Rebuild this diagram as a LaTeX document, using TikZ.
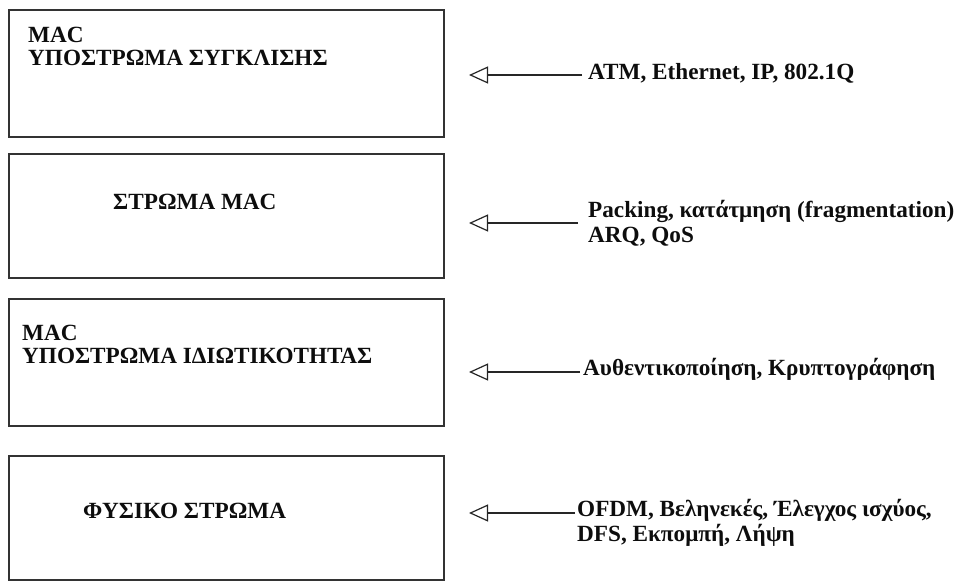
\documentclass[tikz,border=0pt]{standalone}
\usepackage{fontspec}
\setmainfont{Liberation Serif}
\usetikzlibrary{arrows.meta}
\begin{document}
\begin{tikzpicture}[x=1pt,y=-1pt,
  layerbox/.style={draw=black!80, line width=1.9pt, inner sep=0pt},
  boxtext/.style={anchor=base west, inner sep=0pt, align=left,
    font=\bfseries\fontsize{23.2}{23}\selectfont, text=black!95},
  sidetext/.style={anchor=base west, inner sep=0pt, align=left,
    font=\bfseries\fontsize{23.2}{25}\selectfont, text=black!95},
  feed/.style={draw=black!85, line width=1.2pt,
    -{Triangle[open, length=19pt, width=17pt, line width=1.2pt]}}]
\useasboundingbox (0,0) rectangle (957,581);

% protocol layers
\draw[layerbox] (9,10) rectangle (444,137);
\draw[layerbox] (9,154) rectangle (444,278);
\draw[layerbox] (9,299) rectangle (444,426);
\draw[layerbox] (9,456) rectangle (444,580);

% multi-line labels are placed by the baseline of their last line
\node[boxtext] (l1) at (28,65) {MAC\\ΥΠΟΣΤΡΩΜΑ ΣΥΓΚΛΙΣΗΣ};
\node[boxtext] (l2) at (113,209) {ΣΤΡΩΜΑ MAC};
\node[boxtext] (l3) at (22,363) {MAC\\ΥΠΟΣΤΡΩΜΑ ΙΔΙΩΤΙΚΟΤΗΤΑΣ};
\node[boxtext] (l4) at (83,518) {ΦΥΣΙΚΟ ΣΤΡΩΜΑ};

% functions handled by each layer
\node[sidetext] (s1) at (588,79) {ATM, Ethernet, IP, 802.1Q};
\node[sidetext] (s2) at (588,242) {Packing, κατάτμηση (fragmentation)\\ARQ, QoS};
\node[sidetext] (s3) at (583,375) {Αυθεντικοποίηση, Κρυπτογράφηση};
\node[sidetext] (s4) at (577,541) {OFDM, Βεληνεκές, Έλεγχος ισχύος,\\DFS, Εκπομπή, Λήψη};

\coordinate (t1) at (469,75);
\coordinate (t2) at (469,223);
\coordinate (t3) at (469,372);
\coordinate (t4) at (469,513);

\draw[feed] ([xshift=-6pt]s1.west |- t1) -- (t1);
\draw[feed] ([xshift=-10pt]s2.west |- t2) -- (t2);
\draw[feed] ([xshift=-3pt]s3.west |- t3) -- (t3);
\draw[feed] ([xshift=-2pt]s4.west |- t4) -- (t4);
\end{tikzpicture}
\end{document}
